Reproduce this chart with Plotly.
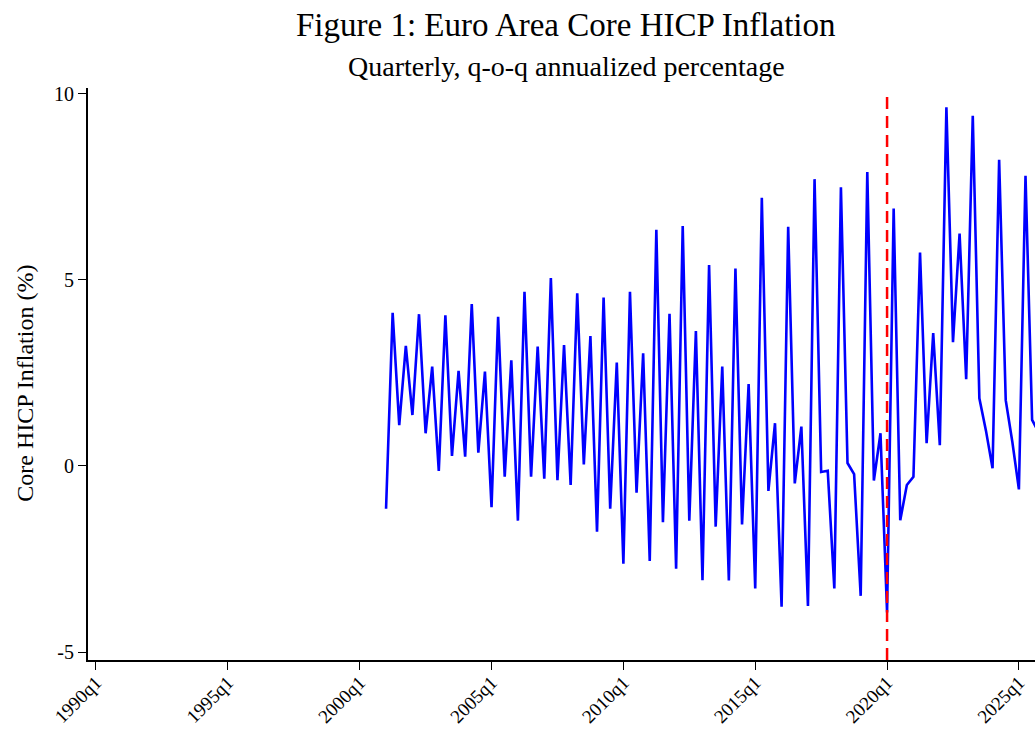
import plotly.graph_objects as go

# Core HICP inflation, quarterly, q-o-q annualized (%), 2001q1 onwards
start_year = 2001
core_hicp = [
    -1.15, 4.12, 1.10, 3.23,   # 2001
    1.37, 4.08, 0.88, 2.67,    # 2002
    -0.13, 4.05, 0.27, 2.56,   # 2003
    0.25, 4.35, 0.36, 2.54,    # 2004
    -1.11, 4.01, -0.29, 2.84,  # 2005
    -1.47, 4.68, -0.29, 3.21,  # 2006
    -0.34, 5.05, -0.38, 3.25,  # 2007
    -0.51, 4.64, 0.04, 3.49,   # 2008
    -1.77, 4.53, -1.15, 2.78,  # 2009
    -2.63, 4.68, -0.72, 3.03,  # 2010
    -2.55, 6.35, -1.51, 4.09,  # 2011
    -2.76, 6.45, -1.47, 3.63,  # 2012
    -3.07, 5.40, -1.63, 2.67,  # 2013
    -3.08, 5.31, -1.57, 2.20,  # 2014
    -3.29, 7.21, -0.67, 1.15,  # 2015
    -3.78, 6.43, -0.47, 1.06,  # 2016
    -3.76, 7.71, -0.16, -0.13, # 2017
    -3.29, 7.49, 0.08, -0.22,  # 2018
    -3.49, 7.90, -0.39, 0.88,  # 2019
    -3.94, 6.92, -1.46, -0.51, # 2020
    -0.29, 5.74, 0.61, 3.57,   # 2021
    0.56, 9.64, 3.33, 6.25,    # 2022
    2.33, 9.41, 1.82, 0.95,    # 2023
    -0.06, 8.23, 1.77, 0.65,   # 2024
    -0.63, 7.80, 1.24, 0.90,   # 2025
]

# Quarter positions on a continuous year scale
dates = [start_year + i / 4 for i in range(len(core_hicp))]

tick_years = [1990, 1995, 2000, 2005, 2010, 2015, 2020, 2025]
tick_labels = [f"{y}q1" for y in tick_years]
y_ticks = [-5, 0, 5, 10]
y_tick_labels = ["-5", "0", "5", "10"]
covid_marker = 2020.0

title_text = "Figure 1: Euro Area Core HICP Inflation"
subtitle_text = "Quarterly, q-o-q annualized percentage"
ytitle_text = "Core HICP Inflation (%)"

SERIF = "Liberation Serif, Times New Roman, serif"

fig = go.Figure()
fig.add_trace(go.Scatter(
    x=dates, y=core_hicp, mode="lines",
    line=dict(color="#0000FF", width=2.6),
    showlegend=False, hoverinfo="skip",
))

fig.add_shape(
    type="line", xref="x", yref="paper",
    x0=covid_marker, x1=covid_marker, y0=0, y1=0.99,
    line=dict(color="#FF0000", width=2.5, dash="12px,7px"),
)

fig.update_layout(
    width=1035, height=729,
    margin=dict(l=88, r=0, t=88, b=69, autoexpand=False),
    paper_bgcolor="white", plot_bgcolor="white",
    font=dict(family=SERIF, color="black"),
    annotations=[
        dict(text=title_text, xref="paper", yref="paper",
             x=0.505, y=1.11, xanchor="center", yanchor="middle",
             showarrow=False, font=dict(size=33, family=SERIF, color="black")),
        dict(text=subtitle_text, xref="paper", yref="paper",
             x=0.505, y=1.037, xanchor="center", yanchor="middle",
             showarrow=False, font=dict(size=28, family=SERIF, color="black")),
        dict(text=ytitle_text, xref="paper", yref="paper",
             x=-0.066, y=0.484, xanchor="center", yanchor="middle",
             textangle=-90, showarrow=False,
             font=dict(size=24, family=SERIF, color="black")),
    ],
)

fig.update_xaxes(
    range=[1989.697, 2025.61], automargin=False,
    tickmode="array", tickvals=tick_years, ticktext=tick_labels,
    tickangle=-45, ticks="outside", ticklen=8, tickwidth=1.3, tickcolor="black",
    ticklabelstandoff=-6,
    tickfont=dict(size=19, family=SERIF, color="black"),
    showline=True, linecolor="black", linewidth=2,
    showgrid=False, zeroline=False,
)
fig.update_yaxes(
    range=[-5.215, 10.16], automargin=False,
    tickmode="array", tickvals=y_ticks, ticktext=y_tick_labels,
    ticks="outside", ticklen=8, tickwidth=1.3, tickcolor="black",
    tickfont=dict(size=20, family=SERIF, color="black"),
    showline=True, linecolor="black", linewidth=2,
    showgrid=False, zeroline=False,
)

fig.write_html("out.html")
